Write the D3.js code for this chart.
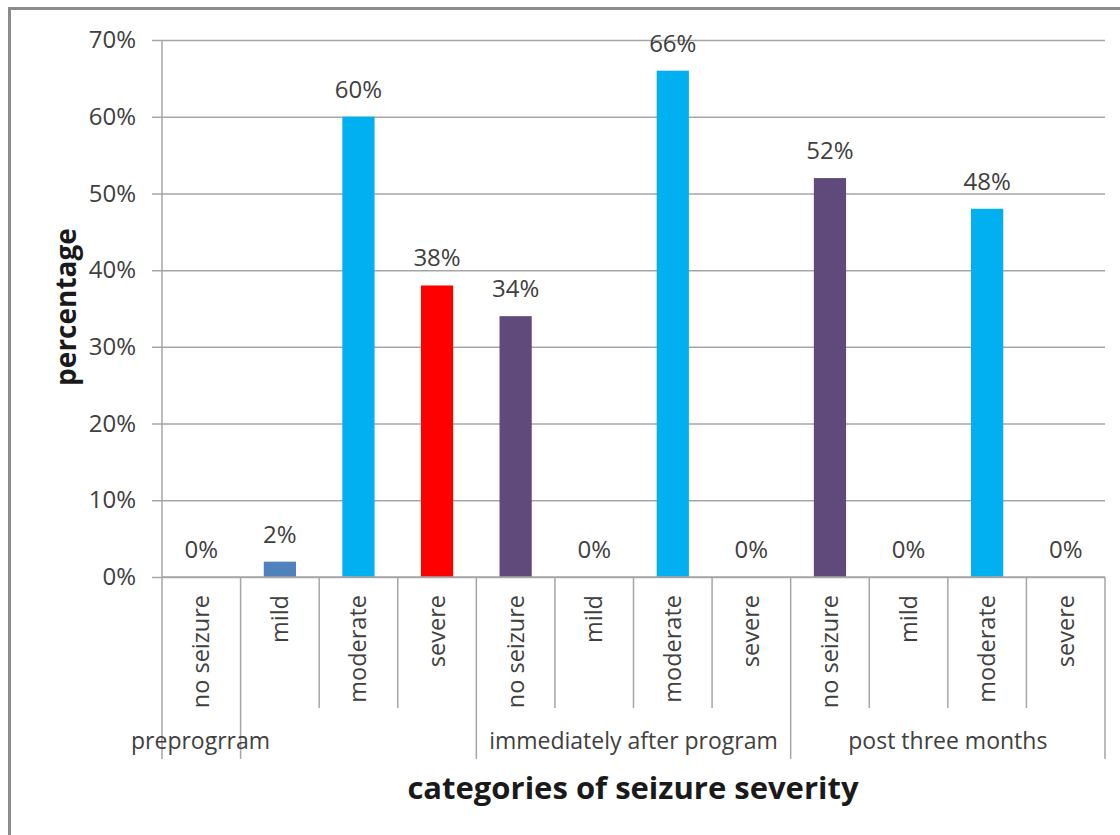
<!DOCTYPE html>
<html>
<head>
<meta charset="utf-8">
<script src="https://cdn.jsdelivr.net/npm/d3@7"></script>
<style>
  body { margin: 0; background: #fff; }
  text { font-family: "Open Sans", Lato, sans-serif; }
</style>
</head>
<body>
<div id="chart"></div>
<script>
// data
var phases = ['preprogrram', 'immediately after program', 'post three months'];
var severities = ['no seizure', 'mild', 'moderate', 'severe'];
var preprogram = [0, 2, 60, 38];
var immediately = [34, 0, 66, 0];
var postThree = [52, 0, 48, 0];
var yTicks = [0, 10, 20, 30, 40, 50, 60, 70];
var severityColors = ['#604A7B', '#4F81BD', '#00B0F0', '#FF0000'];

var W = 1120, H = 835;
var margin = { top: 40, left: 162, right: 15, bottom: 258 };
var plotW = W - margin.left - margin.right,
    plotH = H - margin.top - margin.bottom;

var rows = [];
[preprogram, immediately, postThree].forEach(function (vals, p) {
  vals.forEach(function (v, s) {
    rows.push({ key: p + '-' + s, phase: p, sev: s, value: v });
  });
});

var svg = d3.select('#chart').append('svg')
  .attr('width', W)
  .attr('height', H);

// outer frame (cut off at right/bottom like the reference)
svg.append('rect')
  .attr('x', 9.5).attr('y', 8.5)
  .attr('width', W + 20).attr('height', H + 20)
  .attr('fill', '#fff')
  .attr('stroke', '#8c8c8c')
  .attr('stroke-width', 3);

var g = svg.append('g')
  .attr('transform', 'translate(' + margin.left + ',' + margin.top + ')');

var x = d3.scaleBand()
  .domain(rows.map(function (d) { return d.key; }))
  .range([0, plotW])
  .padding(0);

var y = d3.scaleLinear()
  .domain([0, 70])
  .range([plotH, 0]);

// gridlines + y axis
var yAxis = g.append('g')
  .call(d3.axisLeft(y)
    .tickValues(yTicks)
    .tickSizeInner(-plotW)
    .tickSizeOuter(0)
    .tickPadding(26)
    .tickFormat(function (d) { return d + '%'; }));
yAxis.select('.domain').remove();
yAxis.selectAll('.tick line')
  .attr('x1', -10)
  .attr('stroke', '#a6a6a6')
  .attr('stroke-width', 1.5);
yAxis.selectAll('.tick text')
  .attr('fill', '#404040')
  .style('font-size', '24px');

g.append('line')
  .attr('x1', 0).attr('x2', 0)
  .attr('y1', 0).attr('y2', plotH)
  .attr('stroke', '#a6a6a6')
  .attr('stroke-width', 1.5);

// bars
var bw = x.bandwidth() * 0.41;
g.selectAll('rect.bar')
  .data(rows.filter(function (d) { return d.value > 0; }))
  .enter().append('rect')
  .attr('class', 'bar')
  .attr('x', function (d) { return x(d.key) + (x.bandwidth() - bw) / 2; })
  .attr('y', function (d) { return y(d.value); })
  .attr('width', bw)
  .attr('height', function (d) { return plotH - y(d.value); })
  .attr('fill', function (d) { return severityColors[d.sev]; });

// value labels
g.selectAll('text.val')
  .data(rows)
  .enter().append('text')
  .attr('class', 'val')
  .attr('x', function (d) { return x(d.key) + x.bandwidth() / 2; })
  .attr('y', function (d) { return y(d.value) - 19; })
  .attr('text-anchor', 'middle')
  .attr('fill', '#404040')
  .style('font-size', '24px')
  .text(function (d) { return d.value + '%'; });

// category axis: dividers
var shortDrop = 131, longDrop = 182;
var edges = d3.range(rows.length + 1);
g.selectAll('line.div')
  .data(edges)
  .enter().append('line')
  .attr('class', 'div')
  .attr('x1', function (i) { return i * x.step(); })
  .attr('x2', function (i) { return i * x.step(); })
  .attr('y1', plotH)
  .attr('y2', function (i) { return (i % 4 === 0 || i === 1) ? plotH + longDrop : plotH + shortDrop; })
  .attr('stroke', '#a6a6a6')
  .attr('stroke-width', 1.5);

g.append('line')
  .attr('x1', 0).attr('x2', plotW)
  .attr('y1', plotH).attr('y2', plotH)
  .attr('stroke', '#a6a6a6')
  .attr('stroke-width', 1.5);

// severity labels (rotated)
g.selectAll('text.cat')
  .data(rows)
  .enter().append('text')
  .attr('class', 'cat')
  .attr('transform', function (d) {
    return 'translate(' + (x(d.key) + x.bandwidth() / 2 + 8) + ',' + (plotH + 18) + ')rotate(-90)';
  })
  .attr('text-anchor', 'end')
  .attr('fill', '#404040')
  .style('font-size', '23.5px')
  .text(function (d) { return severities[d.sev]; });

// phase labels
g.selectAll('text.phase')
  .data(phases)
  .enter().append('text')
  .attr('class', 'phase')
  .attr('x', function (d, i) { return i === 0 ? -31 : (i * 4 + 2) * x.step(); })
  .attr('y', plotH + 172)
  .attr('text-anchor', function (d, i) { return i === 0 ? 'start' : 'middle'; })
  .attr('fill', '#404040')
  .style('font-size', '23px')
  .text(function (d) { return d; });

// axis titles
svg.append('text')
  .attr('transform', 'translate(76,307)rotate(-90)')
  .attr('text-anchor', 'middle')
  .attr('fill', '#1a1a1a')
  .style('font-size', '28px')
  .style('font-weight', 'bold')
  .text('percentage');

svg.append('text')
  .attr('x', 633)
  .attr('y', 799)
  .attr('text-anchor', 'middle')
  .attr('fill', '#1a1a1a')
  .style('font-size', '31px')
  .style('font-weight', 'bold')
  .text('categories of seizure severity');
</script>
</body>
</html>
